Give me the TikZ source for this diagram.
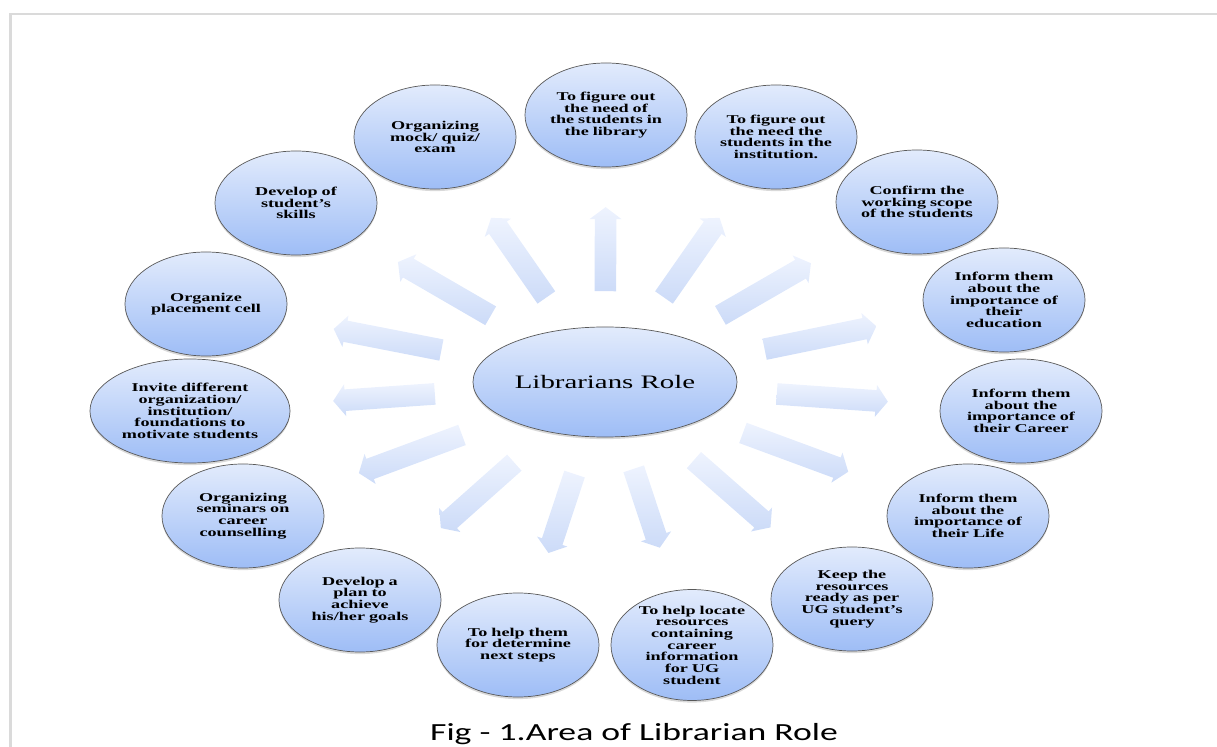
\documentclass[tikz,border=0pt]{standalone}
\usepackage{fontspec}
\usepackage{tikz}
\usetikzlibrary{shapes,calc,shadows}
\newfontfamily\rolefont[FakeStretch=1.52]{Liberation Serif}
\newfontfamily\capfont[FakeStretch=1.45]{Carlito}
\definecolor{ovaltop}{RGB}{226,235,252}
\definecolor{ovalbot}{RGB}{158,189,246}
\definecolor{spoketop}{RGB}{238,243,254}
\definecolor{spokebot}{RGB}{204,219,248}
\definecolor{edgegray}{RGB}{218,218,218}
\tikzstyle{role} = [ellipse, draw=black!65, line width=0.5pt, top color=ovaltop, bottom color=ovalbot,
    minimum width=4.05cm, minimum height=2.6cm, inner sep=0pt, text width=2.8cm, align=center,
    font=\rolefont\bfseries\fontsize{8.5}{8.3}\selectfont,
    drop shadow={opacity=0.3, shadow xshift=0pt, shadow yshift=-1.5pt}]
\tikzstyle{hub} = [role, minimum width=6.6cm, minimum height=2.75cm, text width={},
    font=\rolefont\fontsize{13.5}{16}\selectfont]
\tikzstyle{spokeline} = [draw=none, top color=spoketop, bottom color=spokebot]
\newcommand{\spoke}[3]{%
  \coordinate (s) at ($(lr)!#2!(#1)$);
  \coordinate (e) at ($(lr)!#3!(#1)$);
  \coordinate (b) at ($(e)!0.3cm!(s)$);
  \path [spokeline] ($(s)!0.27cm!90:(e)$) -- ($(b)!0.27cm!90:(e)$) -- ($(b)!0.4cm!90:(e)$)
    -- (e) -- ($(b)!0.4cm!-90:(e)$) -- ($(b)!0.27cm!-90:(e)$) -- ($(s)!0.27cm!-90:(e)$) -- cycle;}

\begin{document}
\begin{tikzpicture}[x=0.025cm, y=-0.025cm]
  \useasboundingbox (0,0) rectangle (1217,747);
  \draw [edgegray, line width=0.07cm] (10.5,747) |- (1217,14);
  \node [hub] (lr) at (605,382) {Librarians Role};
  \node [role] (lib) at (606,115) {To figure out\\the need of\\the students in\\the library};
  \node [role] (inst) at (776,137) {To figure out\\the need the\\students in the\\institution.};
  \node [role] (conf) at (917,202) {Confirm the\\working scope\\of the students};
  \node [role] (edu) at (1004,300) {Inform them\\about the\\importance of\\their\\education};
  \node [role] (car) at (1021,411) {Inform them\\about the\\importance of\\their Career};
  \node [role] (life) at (968,516) {Inform them\\about the\\importance of\\their Life};
  \node [role] (keep) at (852,599) {Keep the\\resources\\ready as per\\UG student’s\\query};
  \node [role, minimum height=2.75cm] (loc) at (692,645) {To help locate\\resources\\containing\\career\\information\\for UG\\student};
  \node [role] (next) at (518,645) {To help them\\for determine\\next steps};
  \node [role] (plan) at (360,600) {Develop a\\plan to\\achieve\\his/her goals};
  \node [role] (sem) at (243,516) {Organizing\\seminars on\\career\\counselling};
  \node [role, minimum width=5cm, text width=3.52cm] (inv) at (190,411) {Invite different\\organization/\\institution/\\foundations to\\motivate students};
  \node [role] (plc) at (206,304) {Organize\\placement cell};
  \node [role] (skl) at (296,203) {Develop of\\student’s\\skills};
  \node [role] (mock) at (435,137) {Organizing\\mock/ quiz/\\exam};
  \spoke{lib}{0.34}{0.655}
  \spoke{inst}{0.345}{0.67}
  \spoke{conf}{0.37}{0.66}
  \spoke{edu}{0.40}{0.68}
  \spoke{car}{0.413}{0.68}
  \spoke{life}{0.38}{0.67}
  \spoke{keep}{0.36}{0.67}
  \spoke{loc}{0.33}{0.63}
  \spoke{next}{0.35}{0.65}
  \spoke{plan}{0.37}{0.67}
  \spoke{sem}{0.395}{0.68}
  \spoke{inv}{0.41}{0.655}
  \spoke{plc}{0.41}{0.68}
  \spoke{skl}{0.37}{0.67}
  \spoke{mock}{0.345}{0.67}
  \node [font=\capfont\fontsize{17.5}{20}\selectfont, anchor=base, inner sep=0pt] (cap) at (634,740) {Fig - 1.Area of Librarian Role};
\end{tikzpicture}
\end{document}
